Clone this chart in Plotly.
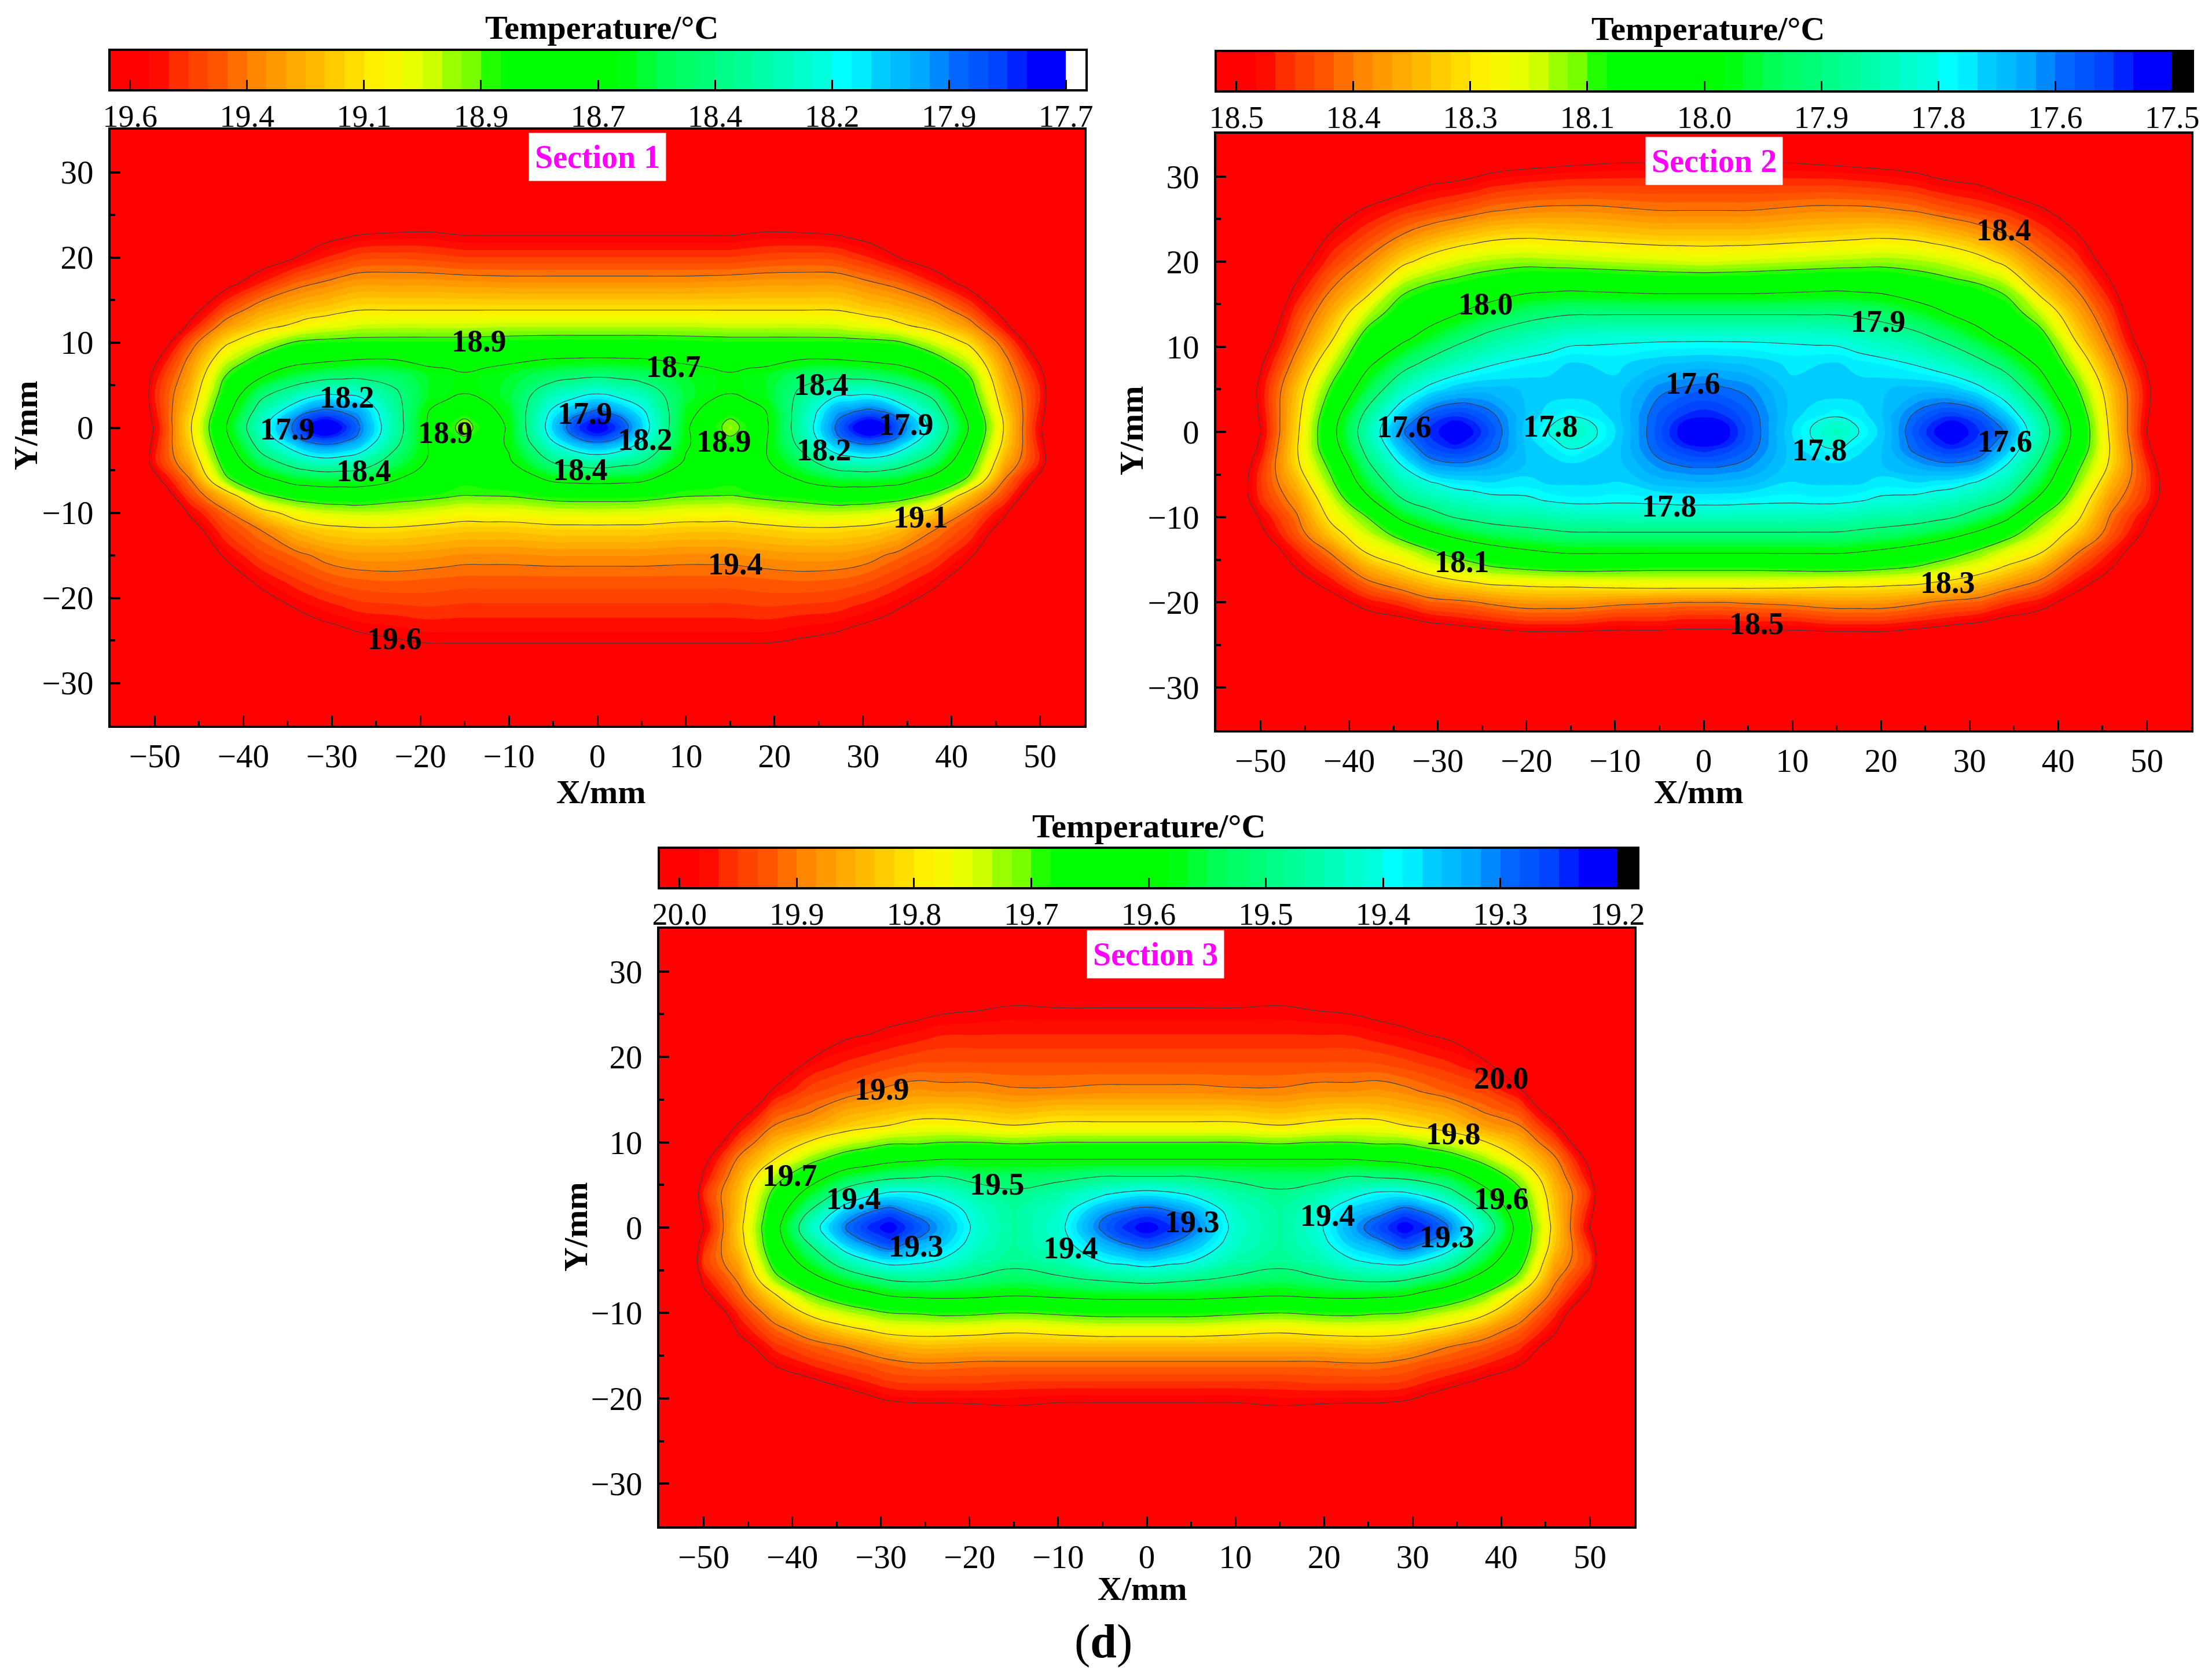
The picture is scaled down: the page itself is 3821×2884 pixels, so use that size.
import plotly.graph_objects as go

W, H = 3821, 2884
SERIF = "Liberation Serif"

# ---------- Section 1: temperature; columns run from x=-55 to x=0, each from the top row to the bottom row; right half mirrors left
S1_X = [-55, -50, -46, -42, -38, -34, -32.8, -30.7, -28.8, -27, -23, -19, -17, -15, -12.5, -10, -5, -2.5, 0]
S1_Y = [35, 26, 23, 20, 17, 14, 12, 10, 8, 6, 4, 2, 1, 0, -1, -2, -4, -6, -8, -10, -12, -15, -18, -21, -24, -27, -35]
S1_T = [
 [20.1,20.1,20.1,20.1,20.1,20.1,20.1,20.1,20.1,20.1,20.1,20.1,20.1,20.1,20.1,20.1,20.1,20.1,20.1,20.1,20.1,20.1,20.1,20.1,20.1,20.1,20.1],
 [19.95,19.95,19.95,19.95,19.95,19.95,19.85,19.74,19.63,19.55,19.52,19.54,19.56,19.58,19.57,19.55,19.53,19.64,19.76,19.85,19.92,19.95,19.95,19.95,19.95,19.95,19.95],
 [19.95,19.95,19.93,19.90,19.80,19.67,19.57,19.42,19.33,19.28,19.23,19.18,19.15,19.14,19.15,19.17,19.25,19.36,19.46,19.58,19.67,19.78,19.86,19.91,19.94,19.95,19.95],
 [19.95,19.90,19.85,19.78,19.65,19.46,19.31,19.15,19.01,18.88,18.80,18.72,18.68,18.66,18.68,18.72,18.80,18.91,19.22,19.39,19.47,19.58,19.68,19.77,19.85,19.88,19.92],
 [19.93,19.85,19.78,19.68,19.52,19.30,19.18,19.00,18.82,18.66,18.46,18.33,18.27,18.24,18.28,18.34,18.49,18.70,18.92,19.19,19.36,19.46,19.57,19.67,19.75,19.80,19.90],
 [19.90,19.80,19.72,19.60,19.40,19.23,19.10,18.87,18.71,18.52,18.30,18.06,17.93,17.89,17.93,18.07,18.32,18.56,18.81,19.06,19.22,19.39,19.49,19.59,19.68,19.75,19.90],
 [19.89,19.78,19.70,19.57,19.38,19.21,19.07,18.86,18.70,18.50,18.25,17.97,17.84,17.78,17.84,17.99,18.28,18.55,18.80,19.03,19.20,19.37,19.47,19.57,19.66,19.73,19.88],
 [19.88,19.75,19.66,19.52,19.35,19.19,19.04,18.85,18.68,18.46,18.19,17.91,17.78,17.72,17.78,17.94,18.24,18.53,18.78,19.00,19.17,19.33,19.44,19.54,19.64,19.70,19.85],
 [19.88,19.75,19.64,19.49,19.32,19.16,19.02,18.845,18.665,18.45,18.20,17.96,17.84,17.78,17.84,17.98,18.26,18.535,18.775,18.99,19.16,19.31,19.42,19.52,19.62,19.69,19.83],
 [19.88,19.75,19.62,19.46,19.30,19.14,19.00,18.84,18.65,18.44,18.21,18.00,17.95,17.92,17.95,18.05,18.29,18.54,18.77,18.98,19.15,19.30,19.41,19.50,19.60,19.68,19.82],
 [19.88,19.75,19.605,19.45,19.30,19.14,18.99,18.84,18.65,18.47,18.38,18.33,18.32,18.31,18.33,18.37,18.49,18.63,18.82,18.99,19.15,19.30,19.40,19.49,19.58,19.66,19.80],
 [19.88,19.72,19.60,19.46,19.30,19.14,18.99,18.84,18.70,18.58,18.58,18.65,18.67,18.68,18.67,18.66,18.67,18.74,18.85,19.02,19.17,19.31,19.41,19.48,19.56,19.65,19.80],
 [19.89,19.72,19.61,19.47,19.305,19.14,18.99,18.84,18.705,18.60,18.61,18.72,18.80,18.84,18.80,18.75,18.74,18.78,18.87,19.04,19.18,19.32,19.415,19.485,19.56,19.65,19.80],
 [19.90,19.72,19.62,19.48,19.31,19.14,18.99,18.84,18.71,18.63,18.65,18.80,18.89,18.94,18.89,18.84,18.80,18.82,18.89,19.06,19.19,19.33,19.42,19.49,19.56,19.65,19.80],
 [19.90,19.72,19.62,19.48,19.315,19.14,18.985,18.835,18.695,18.60,18.60,18.70,18.76,18.80,18.76,18.73,18.73,18.79,18.885,19.05,19.19,19.33,19.42,19.49,19.56,19.65,19.80],
 [19.90,19.72,19.62,19.48,19.32,19.14,18.98,18.83,18.68,18.57,18.55,18.58,18.60,18.62,18.62,18.63,18.67,18.77,18.88,19.05,19.19,19.33,19.42,19.49,19.56,19.65,19.80],
 [19.90,19.72,19.62,19.48,19.32,19.14,18.98,18.82,18.64,18.47,18.29,18.15,18.10,18.08,18.12,18.21,18.40,18.61,18.83,19.02,19.17,19.32,19.42,19.49,19.56,19.65,19.80],
 [19.90,19.72,19.62,19.48,19.32,19.14,18.98,18.82,18.635,18.44,18.23,18.02,17.90,17.84,17.92,18.06,18.35,18.59,18.82,19.015,19.17,19.32,19.42,19.49,19.56,19.65,19.80],
 [19.90,19.72,19.62,19.48,19.32,19.14,18.98,18.82,18.63,18.42,18.18,17.92,17.79,17.72,17.81,17.99,18.31,18.58,18.82,19.01,19.17,19.32,19.42,19.49,19.56,19.65,19.80],
]
S1_BAR_TICKS = [19.6, 19.3625, 19.125, 18.8875, 18.65, 18.4125, 18.175, 17.9375, 17.7]
S1_BAR_TEXT = ["19.6", "19.4", "19.1", "18.9", "18.7", "18.4", "18.2", "17.9", "17.7"]
S1_LABELS = [("18.9",-13.4,10.2),("18.7",8.6,7.2),("18.2",-28.3,3.6),("18.9",-17.2,-0.6),("17.9",-35,-0.2),("17.9",-1.4,1.7),
             ("18.2",5.4,-1.4),("18.9",14.3,-1.6),("18.4",25.3,5.1),("17.9",34.9,0.4),("18.2",25.6,-2.6),("18.4",-26.4,-5.1),
             ("18.4",-1.9,-4.9),("19.1",36.5,-10.5),("19.4",15.6,-16),("19.6",-22.9,-24.8)]

# ---------- Section 2
S2_X = [-55, -50, -46, -42, -38, -34, -31, -28, -26, -24, -20, -17.5, -15, -12.5, -10, -5, -2.5, 0]
S2_Y = [35, 32, 29, 26, 23, 20, 17, 14, 11, 8, 5, 2, 1, 0, -1, -2, -4, -6, -8, -10, -12, -14, -16, -18, -20, -22, -24, -35]
S2_T = [
 [19.0,19.0,19.0,19.0,19.0,19.0,18.95,18.9,18.85,18.78,18.72,18.72,18.72,18.72,18.71,18.7,18.67,18.65,18.65,18.7,18.75,18.8,18.85,18.9,18.95,19.0,19.0,19.0],
 [19.0,18.95,18.9,18.85,18.8,18.72,18.65,18.6,18.56,18.51,18.48,18.49,18.495,18.50,18.49,18.48,18.45,18.44,18.45,18.49,18.52,18.56,18.6,18.65,18.7,18.75,18.8,19.0],
 [18.9,18.85,18.78,18.68,18.61,18.54,18.49,18.44,18.40,18.35,18.30,18.28,18.275,18.27,18.265,18.26,18.27,18.31,18.35,18.385,18.41,18.46,18.5,18.54,18.6,18.65,18.7,18.9],
 [18.8,18.72,18.62,18.54,18.49,18.44,18.38,18.32,18.26,18.18,18.11,18.05,18.035,18.03,18.035,18.05,18.10,18.14,18.19,18.23,18.285,18.365,18.425,18.48,18.53,18.59,18.65,18.8],
 [18.72,18.65,18.56,18.49,18.43,18.365,18.29,18.18,18.085,18.02,17.94,17.85,17.83,17.82,17.83,17.85,17.895,17.95,18.025,18.125,18.185,18.24,18.325,18.40,18.475,18.53,18.6,18.72],
 [18.67,18.61,18.53,18.45,18.37,18.27,18.15,18.07,18.02,17.91,17.80,17.69,17.65,17.63,17.65,17.68,17.75,17.81,17.88,17.975,18.09,18.19,18.26,18.35,18.44,18.51,18.58,18.7],
 [18.64,18.58,18.50,18.43,18.33,18.22,18.11,18.05,17.96,17.85,17.73,17.60,17.57,17.56,17.57,17.59,17.66,17.76,17.83,17.92,18.02,18.135,18.215,18.31,18.40,18.485,18.57,18.68],
 [18.62,18.56,18.49,18.41,18.30,18.185,18.09,18.01,17.905,17.80,17.69,17.57,17.525,17.51,17.525,17.56,17.64,17.725,17.80,17.87,17.975,18.085,18.185,18.28,18.39,18.47,18.56,18.66],
 [18.61,18.55,18.48,18.395,18.285,18.17,18.075,17.98,17.875,17.775,17.68,17.585,17.555,17.54,17.555,17.58,17.645,17.72,17.785,17.855,17.95,18.06,18.16,18.27,18.38,18.46,18.55,18.655],
 [18.6,18.54,18.465,18.38,18.27,18.16,18.06,17.955,17.845,17.755,17.68,17.615,17.60,17.59,17.60,17.61,17.66,17.71,17.77,17.84,17.93,18.04,18.135,18.255,18.365,18.45,18.54,18.65],
 [18.59,18.53,18.45,18.365,18.26,18.15,18.03,17.91,17.81,17.73,17.69,17.69,17.695,17.70,17.695,17.69,17.69,17.72,17.76,17.83,17.905,18.01,18.115,18.245,18.345,18.43,18.53,18.65],
 [18.585,18.525,18.445,18.36,18.265,18.155,18.025,17.895,17.79,17.72,17.695,17.72,17.74,17.75,17.735,17.715,17.695,17.705,17.745,17.82,17.895,17.995,18.105,18.24,18.345,18.43,18.53,18.65],
 [18.58,18.52,18.44,18.36,18.27,18.16,18.02,17.885,17.77,17.705,17.69,17.74,17.785,17.80,17.78,17.75,17.70,17.705,17.735,17.81,17.885,17.985,18.10,18.24,18.345,18.43,18.53,18.65],
 [18.58,18.515,18.44,18.36,18.275,18.165,18.025,17.885,17.765,17.71,17.695,17.72,17.75,17.76,17.75,17.72,17.695,17.705,17.735,17.805,17.885,17.985,18.10,18.235,18.35,18.44,18.53,18.65],
 [18.58,18.51,18.44,18.365,18.28,18.17,18.03,17.885,17.76,17.715,17.70,17.70,17.705,17.71,17.705,17.70,17.70,17.71,17.74,17.80,17.885,17.985,18.105,18.23,18.36,18.45,18.53,18.65],
 [18.58,18.51,18.44,18.375,18.29,18.18,18.04,17.885,17.76,17.69,17.635,17.60,17.595,17.59,17.595,17.605,17.64,17.68,17.735,17.80,17.885,17.985,18.11,18.225,18.37,18.45,18.53,18.65],
 [18.58,18.51,18.44,18.375,18.29,18.185,18.04,17.885,17.76,17.685,17.62,17.565,17.54,17.53,17.54,17.57,17.625,17.675,17.73,17.80,17.885,17.985,18.11,18.225,18.375,18.46,18.53,18.65],
 [18.58,18.51,18.44,18.375,18.29,18.19,18.04,17.885,17.76,17.68,17.61,17.55,17.52,17.51,17.52,17.55,17.62,17.67,17.73,17.80,17.885,17.985,18.11,18.225,18.375,18.46,18.53,18.65],
]
S2_BAR_TICKS = [18.5, 18.375, 18.25, 18.125, 18.0, 17.875, 17.75, 17.625, 17.5]
S2_BAR_TEXT = ["18.5", "18.4", "18.3", "18.1", "18.0", "17.9", "17.8", "17.6", "17.5"]
S2_LABELS = [("18.4",33.9,23.7),("18.0",-24.6,15),("17.9",19.7,13),("17.6",-1.2,5.7),("17.6",-33.8,0.6),("17.8",-17.3,0.7),
             ("17.8",13.1,-2.1),("17.6",34,-1.1),("17.8",-3.9,-8.7),("18.1",-27.3,-15.2),("18.3",27.5,-17.7),("18.5",6,-22.5)]

# ---------- Section 3
S3_X = [-55, -50, -46, -42, -38, -34, -31.5, -29, -26, -23, -19, -15, -10, -5, -2.5, 0]
S3_Y = [35, 28, 25, 22, 19, 16, 14, 12, 10, 8, 6, 4, 2, 1, 0, -1, -2, -4, -6, -8, -10, -12, -14, -16, -18, -20, -22, -35]
S3_T = [
 [20.5,20.5,20.5,20.5,20.5,20.5,20.5,20.5,20.5,20.4,20.35,20.3,20.25,20.23,20.22,20.23,20.25,20.3,20.35,20.4,20.5,20.5,20.5,20.5,20.5,20.5,20.5,20.5],
 [20.5,20.45,20.4,20.35,20.3,20.22,20.18,20.12,20.07,20.02,19.99,19.96,19.98,19.99,20.0,19.985,19.97,19.95,19.98,20.02,20.07,20.12,20.17,20.22,20.28,20.33,20.38,20.5],
 [20.45,20.35,20.3,20.25,20.18,20.1,20.05,19.99,19.94,19.89,19.86,19.84,19.83,19.825,19.82,19.825,19.83,19.86,19.89,19.92,19.96,19.99,20.03,20.08,20.13,20.2,20.25,20.45],
 [20.4,20.25,20.18,20.1,20.05,19.99,19.94,19.9,19.85,19.80,19.73,19.68,19.65,19.64,19.63,19.635,19.64,19.67,19.72,19.81,19.87,19.92,19.96,19.995,20.05,20.12,20.2,20.4],
 [20.35,20.18,20.12,20.05,19.985,19.94,19.91,19.87,19.795,19.72,19.64,19.57,19.50,19.46,19.44,19.46,19.50,19.56,19.63,19.71,19.785,19.87,19.925,19.965,20.01,20.08,20.15,20.4],
 [20.3,20.12,20.06,20.0,19.96,19.92,19.87,19.83,19.75,19.66,19.56,19.47,19.36,19.32,19.30,19.32,19.36,19.455,19.555,19.655,19.74,19.82,19.90,19.94,19.98,20.03,20.1,20.3],
 [20.28,20.1,20.04,19.99,19.95,19.905,19.86,19.815,19.73,19.64,19.54,19.42,19.31,19.27,19.25,19.27,19.31,19.41,19.52,19.63,19.72,19.80,19.88,19.93,19.965,20.01,20.08,20.28],
 [20.25,20.08,20.02,19.98,19.94,19.89,19.85,19.80,19.71,19.62,19.52,19.39,19.28,19.24,19.22,19.24,19.27,19.38,19.49,19.60,19.70,19.78,19.86,19.915,19.95,19.99,20.06,20.25],
 [20.2,20.06,20.01,19.97,19.93,19.88,19.84,19.78,19.71,19.61,19.51,19.39,19.33,19.29,19.27,19.29,19.33,19.39,19.48,19.59,19.695,19.775,19.845,19.905,19.945,19.985,20.04,20.2],
 [20.17,20.04,20.0,19.96,19.93,19.885,19.835,19.78,19.70,19.60,19.50,19.42,19.36,19.34,19.33,19.34,19.36,19.41,19.49,19.585,19.685,19.775,19.845,19.905,19.945,19.985,20.04,20.2],
 [20.16,20.03,19.995,19.96,19.93,19.885,19.84,19.79,19.70,19.60,19.53,19.46,19.43,19.425,19.42,19.425,19.43,19.46,19.51,19.59,19.69,19.78,19.85,19.91,19.945,19.985,20.03,20.2],
 [20.15,20.02,19.99,19.96,19.93,19.895,19.85,19.80,19.71,19.60,19.53,19.49,19.47,19.47,19.47,19.47,19.47,19.48,19.53,19.60,19.70,19.79,19.85,19.91,19.95,19.985,20.02,20.2],
 [20.15,20.03,19.99,19.96,19.93,19.895,19.84,19.79,19.70,19.60,19.52,19.46,19.43,19.425,19.42,19.425,19.43,19.46,19.51,19.59,19.69,19.78,19.85,19.91,19.95,19.99,20.03,20.2],
 [20.15,20.03,19.99,19.96,19.93,19.89,19.84,19.79,19.70,19.60,19.50,19.41,19.33,19.30,19.29,19.31,19.34,19.40,19.49,19.58,19.68,19.77,19.85,19.91,19.95,19.99,20.03,20.2],
 [20.15,20.03,19.99,19.96,19.93,19.89,19.84,19.79,19.70,19.60,19.50,19.39,19.30,19.26,19.245,19.265,19.305,19.385,19.48,19.58,19.68,19.77,19.85,19.91,19.95,19.99,20.03,20.2],
 [20.15,20.03,19.99,19.96,19.93,19.89,19.84,19.79,19.70,19.60,19.50,19.38,19.28,19.24,19.22,19.24,19.28,19.37,19.47,19.58,19.68,19.77,19.85,19.91,19.95,19.99,20.03,20.2],
]
S3_BAR_TICKS = [20.0, 19.9, 19.8, 19.7, 19.6, 19.5, 19.4, 19.3, 19.2]
S3_BAR_TEXT = ["20.0", "19.9", "19.8", "19.7", "19.6", "19.5", "19.4", "19.3", "19.2"]
S3_LABELS = [("20.0",40,17.5),("19.9",-29.9,16.2),("19.8",34.6,11),("19.7",-40.3,6.1),("19.4",-33.1,3.4),("19.5",-16.9,5.1),
             ("19.6",40,3.4),("19.4",20.4,1.4),("19.3",5.1,0.7),("19.3",-26,-2.2),("19.4",-8.6,-2.4),("19.3",33.9,-1.1)]

# 48 colour bands, hottest first
BANDS = ["#ff0000","#ff0c00","#ff2e00","#ff4400","#ff5500","#ff6e00","#ff8800","#ff9900","#ffaa00","#ffbb00","#ffcc00","#ffdd00",
         "#fff000","#f8f800","#e8ff00","#ccff00","#99ff00","#77ff00","#22ff00","#00ff00","#00ff00","#00ff00","#00ff00","#00ff00",
         "#00ff00","#00ff11","#00ff33","#00ff55","#00ff66","#00ff77","#00ff88","#00ff99","#00ffaa","#00ffbb","#00ffcc","#00ffdd",
         "#00ffff","#00eeff","#00ccff","#00bbff","#00aaff","#0088ff","#0066ff","#0055ff","#0044ff","#0022ff","#0000ff","#0000ff"]

PANELS = [
    dict(name="Section 1", x=S1_X, y=S1_Y, t=S1_T, ticks=S1_BAR_TICKS, text=S1_BAR_TEXT, labels=S1_LABELS, under="#ffffff",
         plot=(191, 1873, 224, 1253), bar=(191, 1875, 88, 154), sec=(0, 31.8), xt=1039, xtitle=(1038, 1367), ytitle=(44, 735)),
    dict(name="Section 2", x=S2_X, y=S2_Y, t=S2_T, ticks=S2_BAR_TICKS, text=S2_BAR_TEXT, labels=S2_LABELS, under="#000000",
         plot=(2101, 3785, 231, 1261), bar=(2102, 3786, 90, 156), sec=(1.2, 31.8), xt=2950, xtitle=(2934, 1367), ytitle=(1954, 743)),
    dict(name="Section 3", x=S3_X, y=S3_Y, t=S3_T, ticks=S3_BAR_TICKS, text=S3_BAR_TEXT, labels=S3_LABELS, under="#000000",
         plot=(1139, 2823, 1604, 2636), bar=(1140, 2828, 1466, 1532), sec=(1, 32), xt=1985, xtitle=(1973, 2743), ytitle=(994, 2119)),
]

fig = go.Figure()
annotations = []
layout = {}
AXIS_FONT = dict(family=SERIF, size=57, color="black")
BAR_FONT = dict(family=SERIF, size=54, color="black")
LABEL_FONT = dict(family=SERIF, size=54, color="black")
TITLE_FONT = dict(family=SERIF, size=58, color="black")

for n, p in enumerate(PANELS):
    xa_main, ya_main = 2 * n + 1, 2 * n + 1
    xa_bar, ya_bar = 2 * n + 2, 2 * n + 2
    hi, lo = p["ticks"][0], p["ticks"][-1]
    step = (hi - lo) / 48

    # mirror the left half to give the right half
    x_full = p["x"] + [-v for v in p["x"][-2::-1]]
    rows = []
    for j in range(len(p["y"])):
        left = [col[j] for col in p["t"]]
        rows.append(left + left[-2::-1])
    y_up = p["y"][::-1]
    z_up = rows[::-1]

    scale = [[0, BANDS[-1]]]
    for i in range(47, -1, -1):
        scale.append([1 - (i + 0.5) / 48, BANDS[i]])
    scale.append([1, BANDS[0]])

    fig.add_trace(go.Contour(
        x=x_full, y=y_up, z=z_up, xaxis=f"x{xa_main}", yaxis=f"y{ya_main}", showscale=False,
        autocontour=False, zmin=lo, zmax=hi, colorscale=scale,
        contours=dict(coloring="fill", start=lo, end=hi, size=step, showlines=False),
        line=dict(width=0, smoothing=1.3), hoverinfo="skip"))
    fig.add_trace(go.Contour(
        x=x_full, y=y_up, z=z_up, xaxis=f"x{xa_main}", yaxis=f"y{ya_main}", showscale=False,
        autocontour=False, contours=dict(coloring="none", start=lo, end=hi, size=(hi - lo) / 8),
        line=dict(color="#404040", width=1.1, smoothing=1.3), hoverinfo="skip"))

    # colour bar drawn as a heat map on its own axes
    colours = [BANDS[0]] + BANDS + [p["under"]]
    edges = [hi + step - i * step for i in range(51)]
    fig.add_trace(go.Heatmap(
        x=edges, y=[0, 1], z=[list(range(50))], xaxis=f"x{xa_bar}", yaxis=f"y{ya_bar}", showscale=False,
        zmin=0, zmax=49, colorscale=[[i / 49, c] for i, c in enumerate(colours)], hoverinfo="skip"))

    x0, x1, top, bot = p["plot"]
    bx0, bx1, btop, bbot = p["bar"]
    layout[f"xaxis{xa_main}"] = dict(
        domain=[x0 / W, x1 / W], anchor=f"y{ya_main}", range=[-55, 55], dtick=10, tick0=0, automargin=False,
        ticks="inside", ticklen=17, tickwidth=3, tickcolor="black", minor=dict(dtick=5, tick0=0, ticks="inside", ticklen=8, tickwidth=3, tickcolor="black"),
        showline=True, mirror=True, linewidth=4, linecolor="black", showgrid=False, zeroline=False,
        tickfont=AXIS_FONT, ticklabelstandoff=0)
    layout[f"yaxis{ya_main}"] = dict(
        domain=[1 - bot / H, 1 - top / H], anchor=f"x{xa_main}", range=[-35, 35], dtick=10, tick0=0, automargin=False,
        ticks="inside", ticklen=17, tickwidth=4, tickcolor="black", minor=dict(dtick=5, tick0=0, ticks="inside", ticklen=8, tickwidth=4, tickcolor="black"),
        showline=True, mirror=True, linewidth=4, linecolor="black", showgrid=False, zeroline=False,
        tickfont=AXIS_FONT, ticklabelstandoff=14)
    layout[f"xaxis{xa_bar}"] = dict(
        domain=[bx0 / W, bx1 / W], anchor=f"y{ya_bar}", range=[hi + step, lo - step], automargin=False,
        tickmode="array", tickvals=p["ticks"], ticktext=p["text"], ticks="inside", ticklen=16, tickwidth=3, tickcolor="black",
        showline=True, mirror=True, linewidth=4, linecolor="black", showgrid=False, zeroline=False,
        tickfont=BAR_FONT, ticklabelstandoff=-4)
    layout[f"yaxis{ya_bar}"] = dict(
        domain=[1 - bbot / H, 1 - btop / H], anchor=f"x{xa_bar}", range=[0, 1], ticks="", showticklabels=False, automargin=False,
        showline=True, mirror=True, linewidth=4, linecolor="black", showgrid=False, zeroline=False)

    for text, lx, ly in p["labels"]:
        annotations.append(dict(text=f"<b>{text}</b>", x=lx, y=ly, xref=f"x{xa_main}", yref=f"y{ya_main}",
                                showarrow=False, font=LABEL_FONT, xanchor="center", yanchor="middle"))
    annotations.append(dict(text=f"<b>{p['name']}</b>", x=p["sec"][0], y=p["sec"][1], xref=f"x{xa_main}", yref=f"y{ya_main}",
                            showarrow=False, font=dict(family=SERIF, size=56, color="#ff00ff"), bgcolor="white", borderpad=10,
                            xanchor="center", yanchor="middle"))
    annotations.append(dict(text="<b>Temperature/°C</b>", x=p["xt"] / W, y=1 - (btop - 40) / H, xref="paper", yref="paper",
                            showarrow=False, font=TITLE_FONT, xanchor="center", yanchor="middle"))
    annotations.append(dict(text="<b>X/mm</b>", x=p["xtitle"][0] / W, y=1 - p["xtitle"][1] / H, xref="paper", yref="paper",
                            showarrow=False, font=TITLE_FONT, xanchor="center", yanchor="middle"))
    annotations.append(dict(text="<b>Y/mm</b>", x=p["ytitle"][0] / W, y=1 - p["ytitle"][1] / H, xref="paper", yref="paper",
                            showarrow=False, font=TITLE_FONT, xanchor="center", yanchor="middle", textangle=-90))

annotations.append(dict(text="(<b>d</b>)", x=1906 / W, y=1 - 2834 / H, xref="paper", yref="paper", showarrow=False,
                        font=dict(family=SERIF, size=82, color="black"), xanchor="center", yanchor="middle"))

fig.update_layout(width=W, height=H, margin=dict(l=0, r=0, t=0, b=0), autosize=False, showlegend=False,
                  paper_bgcolor="white", plot_bgcolor="white", annotations=annotations, **layout)
fig.write_html("out.html", post_script="document.body.style.margin='0';", config={"displayModeBar": False})
